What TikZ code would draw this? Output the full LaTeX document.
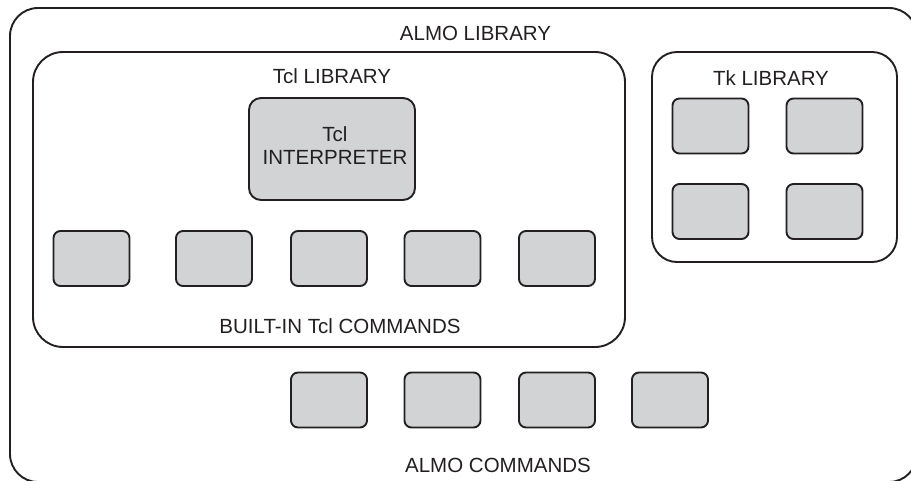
\documentclass[tikz,border=0pt]{standalone}
\usepackage{fontspec}
\setmainfont{Liberation Sans}
\definecolor{ink}{HTML}{231F20}
\definecolor{boxgrey}{HTML}{D1D3D4}
\begin{document}
\begin{tikzpicture}[x=1pt,y=-1pt,
  frame/.style={draw=ink, line width=1.9pt, inner sep=0pt, outer sep=0pt},
  cell/.style={frame, fill=boxgrey, rounded corners=7pt, minimum width=76pt, minimum height=55pt},
  lbl/.style={font=\fontsize{20.5}{23}\selectfont, text=ink, inner sep=0pt}]
\useasboundingbox (0,0) rectangle (911,480);
% containers
\node[frame, rounded corners=28pt, minimum width=907pt, minimum height=474pt] (almo) at (463.5,245) {};
\node[frame, rounded corners=30pt, minimum width=592pt, minimum height=295pt] (tcllib) at (329,199.5) {};
\node[frame, rounded corners=25pt, minimum width=245pt, minimum height=210pt] (tklib) at (774.5,157) {};
\node[frame, fill=boxgrey, rounded corners=12pt, minimum width=166pt, minimum height=102pt] (interp) at (332,149) {};
% built-in Tcl commands
\node[cell] (b1) at (91.5,258.5) {};
\node[cell] (b2) at (214,258.5) {};
\node[cell] (b3) at (329,258.5) {};
\node[cell] (b4) at (442.5,258.5) {};
\node[cell] (b5) at (557,258.5) {};
% Tk
\node[cell] (k1) at (710.5,126) {};
\node[cell] (k2) at (824.5,126) {};
\node[cell] (k3) at (710.5,211.5) {};
\node[cell] (k4) at (824.5,211.5) {};
% ALMO commands
\node[cell] (a1) at (329,400) {};
\node[cell] (a2) at (442.5,400) {};
\node[cell] (a3) at (557,400) {};
\node[cell] (a4) at (670,400) {};
% labels
\node[lbl, anchor=base] (talmo) at (475.5,40.3) {ALMO LIBRARY};
\node[lbl, anchor=base] (ttcl) at (332,83.5) {Tcl LIBRARY};
\node[lbl, anchor=base] (ttk) at (771,85) {Tk LIBRARY};
\node[lbl, align=center, anchor=center] (tinterp) at (335,146) {Tcl\\INTERPRETER};
\node[lbl, anchor=base] (tbuilt) at (340,333) {BUILT-IN Tcl COMMANDS};
\node[lbl, anchor=base] (tcmds) at (498,472) {ALMO COMMANDS};
\end{tikzpicture}
\end{document}
